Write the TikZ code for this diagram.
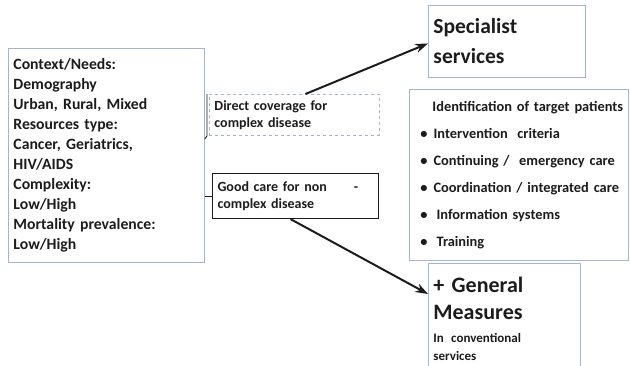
\documentclass[tikz,border=0pt]{standalone}
\usepackage{fontspec}
\setmainfont{Carlito}
\usetikzlibrary{arrows.meta,positioning}
\definecolor{frameGray}{RGB}{165,180,204}
\definecolor{inkBlack}{RGB}{28,28,28}

\begin{document}
\begin{tikzpicture}[
    x=1pt, y=-1pt,
    panel/.style={
        rectangle, draw=frameGray, line width=0.9pt, fill=white,
        text=inkBlack, font=\bfseries, align=left, anchor=north west,
        inner xsep=5pt, inner ysep=2pt
    },
    note/.style={
        panel, font=\bfseries\fontsize{14}{16.5}\selectfont
    },
    arrow/.style={-{Stealth[length=4.5mm,width=3.2mm]}, line width=2pt, draw=inkBlack}
]
\useasboundingbox (0,0) rectangle (630,365);

\node[panel, text width=186pt, minimum height=214pt,
      font=\bfseries\fontsize{15.7}{20}\selectfont] (ctx) at (8,48)
    {Context/Needs:\\Demography\\Urban, Rural, Mixed\\Resources type:\\
     Cancer, Geriatrics,\\HIV/AIDS\\Complexity:\\Low/High\\
     Mortality prevalence:\\Low/High};

\node[note, dashed, text width=160pt, minimum height=41pt] (direct) at (209,94)
    {Direct coverage for\\complex disease};
\node[note, draw=inkBlack, line width=1.1pt, text width=156pt, minimum height=45pt] (good) at (212,173)
    {Good care for non\hspace{27pt}-\\complex disease};

\node[panel, text width=147pt, minimum height=72pt,
      font=\bfseries\fontsize{21.5}{30}\selectfont] (special) at (428,5)
    {Specialist\\services};

\node[panel, text width=215pt, minimum height=171pt, inner xsep=2pt,
      font=\bfseries\fontsize{14.4}{14}\selectfont] (ident) at (409,89)
    {\hspace{21pt}Identification of target patients\\[13pt]
     \hspace{9pt}\textbullet\hspace{6pt}Intervention\ \ criteria\\[13pt]
     \hspace{9pt}\textbullet\hspace{6pt}Continuing\ /\ \ emergency care\\[13pt]
     \hspace{9pt}\textbullet\hspace{6pt}Coordination\ /\ integrated care\\[13pt]
     \hspace{9pt}\textbullet\hspace{9pt}Information systems\\[13pt]
     \hspace{9pt}\textbullet\hspace{9pt}Training};

\node[panel, text width=142pt, minimum height=110pt,
      font=\bfseries\fontsize{22}{27}\selectfont] (general) at (428,263)
    {+ General\\Measures\\[-4pt]
     {\fontsize{13}{15}\selectfont In conventional}\\[-9pt]
     {\fontsize{13}{15}\selectfont services}};

% bracket and tick from the context box
\draw[inkBlack, line width=0.9pt] ([xshift=-2pt]direct.north west) -- ([xshift=-2pt]direct.south west)
    -- ([yshift=-3pt]ctx.east |- direct.south);
\draw[inkBlack, line width=0.9pt] (ctx.east |- good.west) -- (good.west);

\draw[arrow] ([xshift=11pt]direct.north) -- ([yshift=-2pt]special.west);
\draw[arrow] ([xshift=-5pt]good.south) -- ([yshift=-31pt]general.north west);

\end{tikzpicture}
\end{document}
